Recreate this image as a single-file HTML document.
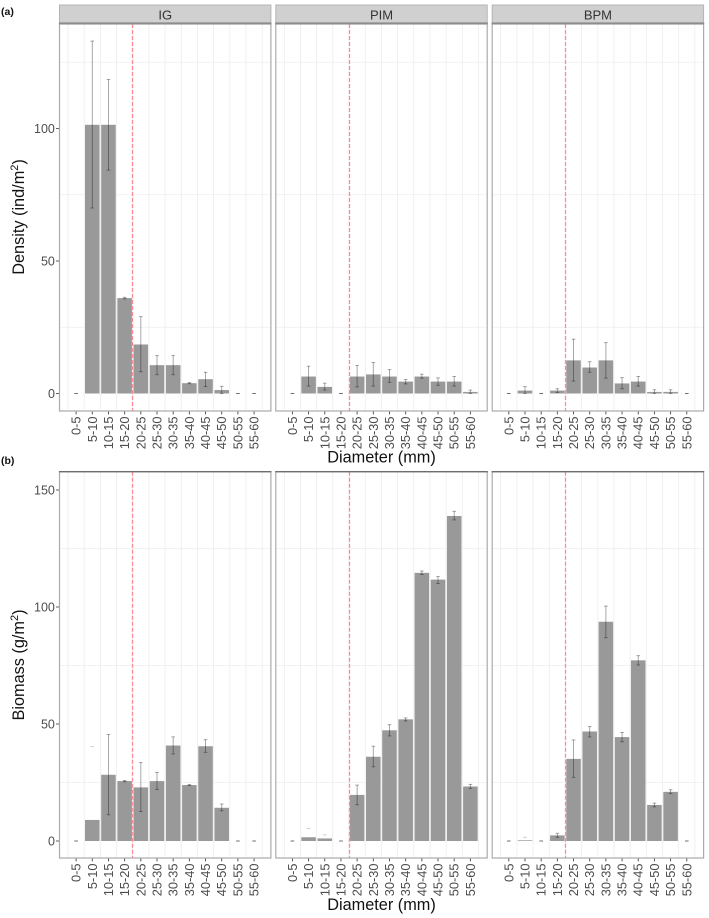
<!DOCTYPE html>
<html lang="en">
<head>
<meta charset="utf-8">
<title>Density and biomass by diameter class</title>
<style>
html,body{margin:0;padding:0;background:#fff;width:709px;height:918px;overflow:hidden}
svg{display:block;font-family:"Liberation Sans",Arial,sans-serif;filter:blur(0.3px)}
</style>
</head>
<body>
<svg id="chart" width="709" height="918" viewBox="0 0 709 918" xmlns="http://www.w3.org/2000/svg">
  <text x="1" y="15" font-size="10.5" font-weight="bold" fill="#111">(a)</text>
  <text x="1" y="464" font-size="10.5" font-weight="bold" fill="#111">(b)</text>
  <text transform="translate(24,217) rotate(-90)" text-anchor="middle" font-size="16.3" fill="#111">Density (ind/m<tspan font-size="11" dy="-6">2</tspan><tspan dy="6">)</tspan></text>
  <text transform="translate(24,665) rotate(-90)" text-anchor="middle" font-size="16.3" fill="#111">Biomass (g/m<tspan font-size="11" dy="-6">2</tspan><tspan dy="6">)</tspan></text>
  <text x="381.5" y="462.5" text-anchor="middle" font-size="16.3" fill="#111">Diameter (mm)</text>
  <text x="381.5" y="910" text-anchor="middle" font-size="16.3" fill="#111">Diameter (mm)</text>
</svg>
<script>
const categories = ['0-5','5-10','10-15','15-20','20-25','25-30','30-35','35-40','40-45','45-50','50-55','55-60'];
const facets = ['IG','PIM','BPM'];
const cutoffPosition = 3.5;

const densityTicks = [0,50,100];
const densityMinorTicks = [25,75,125];
const biomassTicks = [0,50,100,150];
const biomassMinorTicks = [25,75,125];

const densityIG = [0,101.4,101.4,36,18.5,10.7,10.7,3.9,5.4,1.3,0,0];
const densityIGHigh = [0,133,118.5,36.3,29,14.3,14.3,4.1,8,2.7,0,0];
const densityIGLow = [0,70,84.3,35.7,8.2,7.1,7.1,3.7,2.6,0,0,0];

const densityPIM = [0,6.4,2.5,0,6.4,7.2,6.4,4.5,6.4,4.5,4.5,0.6];
const densityPIMHigh = [0,10.3,3.9,0,10.6,11.7,9,5.3,7.3,5.9,6.4,1.3];
const densityPIMLow = [0,2.8,1.3,0,2.5,2.8,4.2,3.6,5.8,3.1,2.8,0];

const densityBPM = [0,1.1,0,1.1,12.5,9.8,12.5,3.8,4.5,0.6,0.6,0];
const densityBPMHigh = [0,2.6,0,1.8,20.5,12,19.2,6,6.4,1.4,1.4,0];
const densityBPMLow = [0,0,0,0.4,4.7,8,5.8,1.8,2.8,0,0,0];

const biomassIG = [0,9,28.3,25.6,22.9,25.6,40.8,23.9,40.5,14.2,0,0];
const biomassIGHigh = [0,40.3,45.5,25.9,33.5,29.3,44.5,24.1,43.3,15.8,0,0];
const biomassIGLow = [0,null,11.2,25.3,12.6,22,37.2,23.7,37.9,12.9,0,0];

const biomassPIM = [0,1.6,1.1,0,19.7,36,47.3,52,114.6,111.7,138.9,23.3];
const biomassPIMHigh = [0,5.3,2.6,0,23.9,40.5,49.7,52.6,115.4,113,140.9,24.2];
const biomassPIMLow = [0,null,null,0,15.5,31.7,44.9,51.3,113.9,110,137.2,22.5];

const biomassBPM = [0,0.3,0,2.4,35.1,46.8,93.7,44.4,77.2,15.4,21,0];
const biomassBPMHigh = [0,1.6,0,3.3,43.2,48.9,100.4,46.4,79.2,16.2,21.9,0];
const biomassBPMLow = [0,null,0,1.6,27.2,44.5,86.9,42.4,75.2,14.6,20.3,0];

const NS = 'http://www.w3.org/2000/svg';
const svg = document.getElementById('chart');
const panelLefts = [59.5,275.8,492.2];
const panelWidth = 211.4;
const catStep = 16.18;
const catOffset = 16.6;

function mk(tag, attrs, parent){
  const node = document.createElementNS(NS, tag);
  for (const k in attrs) node.setAttribute(k, attrs[k]);
  (parent || svg).appendChild(node);
  return node;
}
function xScale(left, pos){ return left + catOffset + pos * catStep; }
function makeYScale(zeroPx, pxPerUnit){ return function(v){ return zeroPx - v * pxPerUnit; }; }

function drawRow(row){
  const y = row.yScale;
  row.series.forEach(function(s, f){
    const left = panelLefts[f];
    const g = mk('g', {});
    
    

    if (row.strip) {
      const strip = mk('rect', {x:left, y:5, width:panelWidth, height:19, fill:'#d0d0d0', stroke:'#b4b4b4', 'stroke-width':1}, g);
      
      
      const stripText = mk('text', {x:left + panelWidth/2, y:19.3, 'text-anchor':'middle', 'font-size':13, fill:'#333'}, g);
      stripText.textContent = facets[f];
      
      
    }

    row.minorTicks.forEach(function(t){
      const gl = mk('line', {x1:left, x2:left + panelWidth, y1:y(t), y2:y(t), stroke:'#eeeeee', 'stroke-width':0.8}, g);
      
      
    });
    for (let i = 0; i <= categories.length; i++) {
      const vx = xScale(left, i - 0.5);
      const gl = mk('line', {x1:vx, x2:vx, y1:row.top, y2:row.bottom, stroke:'#ececec', 'stroke-width':0.8}, g);
      
      
    }

    s.values.forEach(function(v, i){
      if (v <= 0) return;
      const cx = xScale(left, i);
      const bar = mk('rect', {x:cx - 7.28, y:y(v), width:14.56, height:y(0) - y(v), fill:'#999999'}, g);
      
      
    });

    s.values.forEach(function(v, i){
      const cx = xScale(left, i);
      const hi = s.high[i];
      const lo = s.low[i];
      const eb = mk('g', {stroke:'#000', 'stroke-opacity':lo === null ? 0.22 : 0.38, 'stroke-width':0.9}, g);
      
      
      mk('line', {x1:cx - 1.8, x2:cx + 1.8, y1:y(hi), y2:y(hi)}, eb);
      if (lo !== null) {
        mk('line', {x1:cx, x2:cx, y1:y(hi), y2:y(lo)}, eb);
        mk('line', {x1:cx - 1.8, x2:cx + 1.8, y1:y(lo), y2:y(lo)}, eb);
      }
    });

    const cut = Math.floor(xScale(left, cutoffPosition)) + 0.5;
    const vline = mk('line', {x1:cut, x2:cut, y1:row.top, y2:row.bottom, stroke:'#ff8a96', 'stroke-width':1.3, 'stroke-dasharray':'4 2'}, g);
    
    

    const border = mk('rect', {x:left, y:row.top, width:panelWidth, height:row.bottom - row.top, fill:'none', stroke:'#ababab', 'stroke-width':1.2}, g);
    
    
    const topEdge = mk('line', {x1:left - 0.6, x2:left + panelWidth + 0.6, y1:row.strip ? row.top - 0.6 : row.top, y2:row.strip ? row.top - 0.6 : row.top, stroke:row.strip ? '#8c8c8c' : '#6e6e6e', 'stroke-width':row.strip ? 2 : 1.4}, g);
    
    

    categories.forEach(function(c, i){
      const cx = xScale(left, i);
      const tick = mk('line', {x1:cx, x2:cx, y1:row.bottom + 0.6, y2:row.bottom + 3.4, stroke:'#444', 'stroke-width':0.9}, g);
      
      
      const label = mk('text', {transform:'translate(' + (cx + 4.5) + ',' + (row.bottom + 5.5) + ') rotate(-90)', 'text-anchor':'end', 'font-size':12.8, fill:'#4d4d4d'}, g);
      label.textContent = c;
      
      
    });

    if (f === 0) {
      row.ticks.forEach(function(t){
        const tick = mk('line', {x1:left - 3.4, x2:left - 0.6, y1:y(t), y2:y(t), stroke:'#444', 'stroke-width':0.9}, g);
        
        
        const label = mk('text', {x:left - 4.6, y:y(t) + 4.6, 'text-anchor':'end', 'font-size':12.5, fill:'#4d4d4d'}, g);
        label.textContent = t;
        
        
      });
    }
  });
}

drawRow({
  name:'density', strip:true, top:24, bottom:411,
  yScale:makeYScale(393.5, 2.65),
  ticks:densityTicks, minorTicks:densityMinorTicks,
  series:[
    {values:densityIG, high:densityIGHigh, low:densityIGLow},
    {values:densityPIM, high:densityPIMHigh, low:densityPIMLow},
    {values:densityBPM, high:densityBPMHigh, low:densityBPMLow}
  ]
});
drawRow({
  name:'biomass', strip:false, top:471.7, bottom:858,
  yScale:makeYScale(841, 2.34),
  ticks:biomassTicks, minorTicks:biomassMinorTicks,
  series:[
    {values:biomassIG, high:biomassIGHigh, low:biomassIGLow},
    {values:biomassPIM, high:biomassPIMHigh, low:biomassPIMLow},
    {values:biomassBPM, high:biomassBPMHigh, low:biomassBPMLow}
  ]
});
</script>
</body>
</html>
